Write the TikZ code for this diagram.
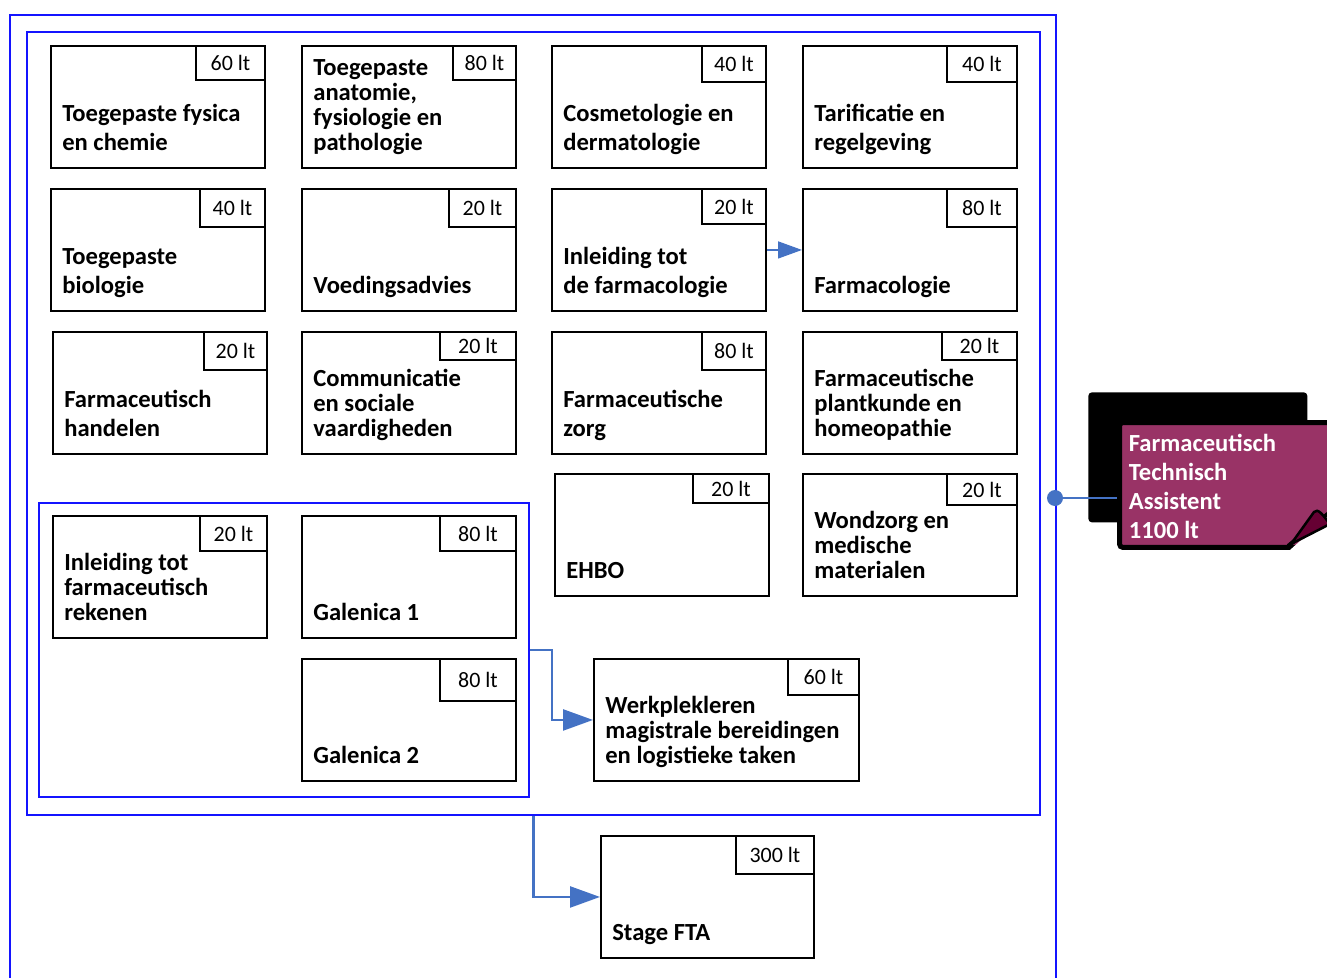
\documentclass[tikz,border=0pt]{standalone}
\usepackage{fontspec}
\setmainfont{Carlito}
\usetikzlibrary{arrows.meta, positioning}
\definecolor{linkblue}{RGB}{68,114,196}
\definecolor{frameblue}{RGB}{20,20,255}
\definecolor{notecolor}{RGB}{153,51,102}
\definecolor{foldcolor}{RGB}{102,0,51}
\tikzstyle{module} = [rectangle, draw=black, line width=1.1pt, anchor=north west, inner sep=0pt, minimum width=4.28cm, minimum height=2.44cm]
\tikzstyle{credit} = [rectangle, draw=black, line width=1.1pt, anchor=north east, inner sep=0pt, font=\fontsize{12.5}{15}\selectfont]
\tikzstyle{title} = [anchor=south west, align=left, inner sep=0pt, text depth=0pt, xshift=0.24cm, yshift=0.36cm, font=\bfseries\fontsize{14}{16.5}\selectfont]
\tikzstyle{tighttitle} = [title, font=\bfseries\fontsize{14}{14.2}\selectfont]
\tikzstyle{notetext} = [anchor=south west, align=left, inner sep=0pt, text depth=0pt, xshift=0.23cm, yshift=0.23cm, text=white, font=\bfseries\fontsize{14}{16.5}\selectfont]
\tikzstyle{frame} = [rectangle, draw=frameblue, line width=1.1pt, anchor=north west, inner sep=0pt]
\tikzstyle{link} = [draw=linkblue, line width=1.4pt, -{Triangle[length=0.6cm, width=0.42cm]}]

\begin{document}
\begin{tikzpicture}[x=0.02cm, y=-0.02cm]
    \useasboundingbox (0,0) rectangle (1327,977);

    % frames
    \node[frame, minimum width=20.92cm, minimum height=19.8cm] (outer) at (9,14) {};
    \node[frame, minimum width=20.26cm, minimum height=15.66cm] (inner) at (26,31) {};
    \node[frame, minimum width=9.8cm, minimum height=5.88cm] (group) at (38,502) {};

    % row 1
    \node[module] (a1) at (50,45) {};
    \node[credit, minimum width=1.38cm, minimum height=0.68cm] (a1c) at (a1.north east) {60 lt};
    \node[title] (a1t) at (a1.south west) {Toegepaste fysica\\en chemie};

    \node[module] (a2) at (301,45) {};
    \node[credit, minimum width=1.26cm, minimum height=0.68cm] (a2c) at (a2.north east) {80 lt};
    \node[tighttitle] (a2t) at (a2.south west) {Toegepaste\\anatomie,\\fysiologie en\\pathologie};

    \node[module] (a3) at (551,45) {};
    \node[credit, minimum width=1.28cm, minimum height=0.72cm] (a3c) at (a3.north east) {40 lt};
    \node[title] (a3t) at (a3.south west) {Cosmetologie en\\dermatologie};

    \node[module] (a4) at (802,45) {};
    \node[credit, minimum width=1.4cm, minimum height=0.72cm] (a4c) at (a4.north east) {40 lt};
    \node[title] (a4t) at (a4.south west) {Tarificatie en\\regelgeving};

    % row 2
    \node[module] (b1) at (50,188) {};
    \node[credit, minimum width=1.3cm, minimum height=0.76cm] (b1c) at (b1.north east) {40 lt};
    \node[title] (b1t) at (b1.south west) {Toegepaste\\biologie};

    \node[module] (b2) at (301,188) {};
    \node[credit, minimum width=1.34cm, minimum height=0.76cm] (b2c) at (b2.north east) {20 lt};
    \node[title] (b2t) at (b2.south west) {Voedingsadvies};

    \node[module] (b3) at (551,188) {};
    \node[credit, minimum width=1.28cm, minimum height=0.7cm] (b3c) at (b3.north east) {20 lt};
    \node[title] (b3t) at (b3.south west) {Inleiding tot\\de farmacologie};

    \node[module] (b4) at (802,188) {};
    \node[credit, minimum width=1.4cm, minimum height=0.76cm] (b4c) at (b4.north east) {80 lt};
    \node[title] (b4t) at (b4.south west) {Farmacologie};

    % row 3
    \node[module] (c1) at (52,331) {};
    \node[credit, minimum width=1.26cm, minimum height=0.76cm] (c1c) at (c1.north east) {20 lt};
    \node[title] (c1t) at (c1.south west) {Farmaceutisch\\handelen};

    \node[module] (c2) at (301,331) {};
    \node[credit, minimum width=1.52cm, minimum height=0.56cm] (c2c) at (c2.north east) {20 lt};
    \node[tighttitle] (c2t) at (c2.south west) {Communicatie\\en sociale\\vaardigheden};

    \node[module] (c3) at (551,331) {};
    \node[credit, minimum width=1.28cm, minimum height=0.76cm] (c3c) at (c3.north east) {80 lt};
    \node[title] (c3t) at (c3.south west) {Farmaceutische\\zorg};

    \node[module] (c4) at (802,331) {};
    \node[credit, minimum width=1.5cm, minimum height=0.56cm] (c4c) at (c4.north east) {20 lt};
    \node[tighttitle] (c4t) at (c4.south west) {Farmaceutische\\plantkunde en\\homeopathie};

    % row 4
    \node[module] (d3) at (554,473) {};
    \node[credit, minimum width=1.52cm, minimum height=0.58cm] (d3c) at (d3.north east) {20 lt};
    \node[title] (d3t) at (d3.south west) {EHBO};

    \node[module] (d4) at (802,473) {};
    \node[credit, minimum width=1.4cm, minimum height=0.62cm] (d4c) at (d4.north east) {20 lt};
    \node[tighttitle] (d4t) at (d4.south west) {Wondzorg en\\medische\\materialen};

    % galenica group
    \node[module] (e1) at (52,515) {};
    \node[credit, minimum width=1.34cm, minimum height=0.7cm] (e1c) at (e1.north east) {20 lt};
    \node[tighttitle] (e1t) at (e1.south west) {Inleiding tot\\farmaceutisch\\rekenen};

    \node[module] (e2) at (301,515) {};
    \node[credit, minimum width=1.52cm, minimum height=0.7cm] (e2c) at (e2.north east) {80 lt};
    \node[title] (e2t) at (e2.south west) {Galenica 1};

    \node[module] (f2) at (301,658) {};
    \node[credit, minimum width=1.52cm, minimum height=0.84cm] (f2c) at (f2.north east) {80 lt};
    \node[title] (f2t) at (f2.south west) {Galenica 2};

    \node[module, minimum width=5.3cm] (wpl) at (593,658) {};
    \node[credit, minimum width=1.42cm, minimum height=0.72cm] (wplc) at (wpl.north east) {60 lt};
    \node[tighttitle] (wplt) at (wpl.south west) {Werkplekleren\\magistrale bereidingen\\en logistieke taken};

    \node[module, minimum width=4.26cm] (stage) at (600,835) {};
    \node[credit, minimum width=1.56cm, minimum height=0.76cm] (stagec) at (stage.north east) {300 lt};
    \node[title] (staget) at (stage.south west) {Stage FTA};

    % sticky note
    \node[rectangle, fill=black, rounded corners=2pt, anchor=north west, minimum width=4.38cm, minimum height=2.6cm, inner sep=0pt] (noteshadow) at (1088,392) {};
    \node[rectangle, fill=notecolor, draw=black, line width=0.1cm, rounded corners=2pt, anchor=north west, minimum width=4.6cm, minimum height=2.5cm, inner sep=0pt] (note) at (1117,420) {};
    \fill[white] (1290,550) -- (1340,550) -- (1340,505) -- cycle;
    \draw[black, line width=0.08cm] (1288,546) -- (1340,504);
    \filldraw[fill=foldcolor, draw=black, line width=0.05cm] (1291,544) -- (1314,512) .. controls (1318,508) and (1322,514) .. (1330,524) -- cycle;
    \node[notetext] (notet) at (note.south west) {Farmaceutisch\\Technisch\\Assistent\\1100 lt};

    % connectors
    \coordinate (dot) at (1055,498);
    \draw[linkblue, line width=1.4pt] (dot) -- (note.west |- dot);
    \fill[linkblue] (dot) circle (0.16cm);
    \draw[link, line width=0.9pt, -{Triangle[length=0.48cm, width=0.34cm]}] (b3) -- (b4);
    \draw[link] (group.east) -- ++(22,0) |- (wpl.west);
    \draw[link] (inner.south) |- (stage.west);

\end{tikzpicture}
\end{document}
